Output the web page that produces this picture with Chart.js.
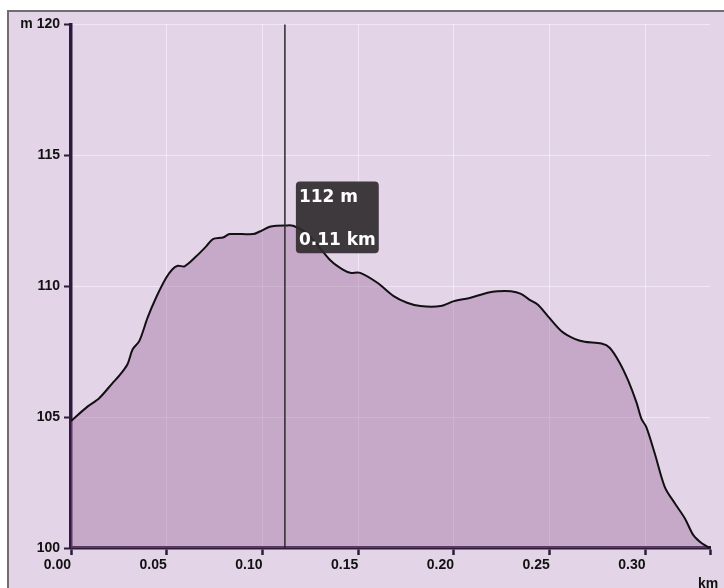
<!DOCTYPE html>
<html>
<head>
<meta charset="utf-8">
<script src="https://cdn.jsdelivr.net/npm/chart.js@4.4.1/dist/chart.umd.min.js"></script>
<style>
  body { margin: 0; background: #fff; overflow: hidden; }
  #box {
    position: absolute; left: 7px; top: 10px;
    width: 760px; height: 620px;
    border: 2px solid #6f6f6f;
    background: #e3d5e7;
  }
  #profile { display: block; }
</style>
</head>
<body>
<div id="box"><canvas id="profile" width="715" height="576"></canvas></div>
<script>
// distance along track (km) and elevation (m)
const distKm = [0.000, 0.0086, 0.0147, 0.0217, 0.0252, 0.0295, 0.0322, 0.0357, 0.0400, 0.0444,
  0.0497, 0.0530, 0.0558, 0.0593, 0.0654, 0.0706, 0.0741, 0.0794, 0.0829, 0.0951,
  0.0986, 0.1038, 0.1074, 0.1117, 0.1160, 0.1230, 0.1300, 0.1360, 0.1420, 0.1458,
  0.1510, 0.1600, 0.1685, 0.1755, 0.1825, 0.1930, 0.2000, 0.2087, 0.2175, 0.2227,
  0.2297, 0.2350, 0.2393, 0.2437, 0.2490, 0.2560, 0.2630, 0.2682, 0.2770, 0.2813,
  0.2865, 0.2910, 0.2953, 0.2979, 0.3005, 0.3049, 0.3101, 0.3154, 0.3206, 0.3250,
  0.3294, 0.3337]
const elevM = [104.85, 105.40, 105.72, 106.30, 106.58, 107.02, 107.59, 107.91, 108.80, 109.56,
  110.32, 110.65, 110.78, 110.76, 111.14, 111.52, 111.80, 111.86, 111.99, 111.99,
  112.09, 112.27, 112.31, 112.32, 112.31, 112.03, 111.46, 110.95, 110.63, 110.51,
  110.51, 110.13, 109.62, 109.37, 109.24, 109.24, 109.43, 109.56, 109.75, 109.81,
  109.81, 109.71, 109.49, 109.30, 108.86, 108.29, 107.99, 107.88, 107.81, 107.65,
  107.08, 106.39, 105.56, 104.93, 104.61, 103.60, 102.33, 101.70, 101.13, 100.49,
  100.18, 100.00]
const yTicks = [100, 105, 110, 115, 120]
const xTicks = [0, 0.05, 0.10, 0.15, 0.20, 0.25, 0.30]
const hoverKm = 0.1117

const maxKm = distKm[distKm.length - 1]
const axisColor = '#2d1a3c'
const gridColor = 'rgba(255,255,255,0.45)'
const tickFont = { family: 'Liberation Sans, Arial, sans-serif', size: 14, weight: 'bold' }
const tipFont = { family: 'DejaVu Sans, sans-serif', size: 17, weight: 'bold' }

points = distKm.map((d, i) => ({ x: d, y: elevM[i] }))

Chart.Tooltip.positioners.besideLine = function (items) {
  if (!items.length) return false
  el = items[0].element
  return { x: el.x + 11, y: el.y - 8 }
}

// vertical line at the hovered point + "km" unit label
const profileExtras = {
  id: 'profileExtras',
  afterDatasetsDraw(chart) {
    const ctx = chart.ctx
    const area = chart.chartArea
    const act = chart.tooltip.getActiveElements()
    if (act.length) {
      const x = act[0].element.x
      ctx.save()
      ctx.strokeStyle = '#2a2a2a'
      ctx.lineWidth = 1.5
      ctx.beginPath()
      ctx.moveTo(x, area.top)
      ctx.lineTo(x, area.bottom)
      ctx.stroke()
      ctx.restore()
    }
    ctx.save()
    ctx.font = 'bold 14px Liberation Sans, Arial, sans-serif'
    ctx.fillStyle = '#111'
    ctx.textAlign = 'center'
    ctx.textBaseline = 'middle'
    ctx.fillText('km', area.right - 2, area.bottom + 36)
    ctx.restore()
  }
}

chart = new Chart(document.getElementById('profile').getContext('2d'), {
  type: 'line',
  data: {
    datasets: [{
      data: points,
      borderColor: '#111',
      borderWidth: 2,
      backgroundColor: 'rgba(155,103,154,0.4)',
      fill: 'start',
      tension: 0.3,
      pointRadius: 0,
      pointHoverRadius: 0
    }]
  },
  options: {
    responsive: false,
    animation: false,
    events: [],
    layout: { padding: { top: 10, right: 14, left: 0, bottom: 0 } },
    scales: {
      x: {
        type: 'linear',
        min: 0,
        max: maxKm,
        afterFit(scale) { scale.height = 40 },
        afterBuildTicks(scale) {
          scale.ticks = xTicks.concat([maxKm]).map(v => ({ value: v }))
        },
        ticks: {
          font: tickFont,
          color: '#111',
          align: 'end',
          padding: 2,
          maxRotation: 0,
          autoSkip: false,
          callback: v => (v === maxKm ? '' : v.toFixed(2))
        },
        grid: {
          color: c => (c.tick && c.tick.value === maxKm ? 'rgba(0,0,0,0)' : gridColor),
          lineWidth: 1,
          tickLength: 7,
          tickColor: axisColor,
          tickWidth: 2.5
        },
        border: { color: axisColor, width: 3.5 }
      },
      y: {
        min: 100,
        max: 120,
        afterFit(scale) { scale.width = 62 },
        afterBuildTicks(scale) {
          scale.ticks = yTicks.map(v => ({ value: v }))
        },
        ticks: {
          font: tickFont,
          color: '#111',
          padding: 4,
          callback: v => (v === 120 ? 'm 120' : v)
        },
        grid: {
          color: gridColor,
          lineWidth: 1,
          tickLength: 7,
          tickColor: axisColor,
          tickWidth: 2
        },
        border: { color: axisColor, width: 3.5 }
      }
    },
    plugins: {
      legend: { display: false },
      tooltip: {
        position: 'besideLine',
        xAlign: 'left',
        yAlign: 'center',
        caretSize: 0,
        caretPadding: 0,
        cornerRadius: 4,
        backgroundColor: 'rgba(48,43,46,0.92)',
        titleColor: '#fff',
        bodyColor: '#fff',
        titleFont: tipFont,
        bodyFont: tipFont,
        titleMarginBottom: 22,
        bodySpacing: 0,
        padding: { top: 6, bottom: 3, left: 3, right: 3 },
        displayColors: false,
        callbacks: {
          title: items => Math.round(items[0].parsed.y) + ' m',
          label: item => item.parsed.x.toFixed(2) + ' km'
        }
      }
    }
  },
  plugins: [profileExtras]
})

hoverIdx = 0
distKm.forEach((d, i) => {
  if (Math.abs(d - hoverKm) < Math.abs(distKm[hoverIdx] - hoverKm)) hoverIdx = i
})
el = chart.getDatasetMeta(0).data[hoverIdx]
chart.tooltip.setActiveElements([{ datasetIndex: 0, index: hoverIdx }], { x: el.x, y: el.y })
chart.update()
</script>
</body>
</html>
